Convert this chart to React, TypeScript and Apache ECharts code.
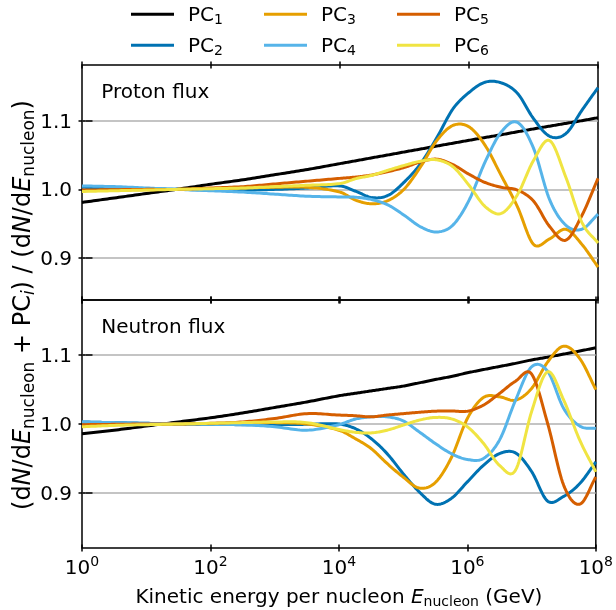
import React, { useEffect, useRef } from 'react';
import * as echarts from 'echarts';

const FONT = 'DejaVu Sans';

// log10 of kinetic energy per nucleon (GeV)
const logE = [0, 0.5, 1, 1.5, 2, 2.5, 3, 3.5, 4, 4.25, 4.5, 4.75, 5, 5.25, 5.5, 5.75, 6, 6.25, 6.5, 6.75, 7, 7.25, 7.5, 7.75, 8];

const seriesNames = ['PC1', 'PC2', 'PC3', 'PC4', 'PC5', 'PC6'];
const seriesColors = ['#000000', '#0072B2', '#E69F00', '#56B4E9', '#D55E00', '#F0E442'];

const protonPC1 = [0.981, 0.9875, 0.994, 1.0005, 1.0075, 1.014, 1.0215, 1.029, 1.0375, 1.0417, 1.046, 1.0502, 1.0545, 1.0587, 1.063, 1.0672, 1.0714, 1.0755, 1.0795, 1.0838, 1.088, 1.092, 1.096, 1.1, 1.1043];
const protonPC2 = [1.003, 1.002, 1.001, 1.0, 0.999, 0.999, 1.0, 1.002, 1.005, 0.997, 0.988, 0.9915, 1.011, 1.0375, 1.075, 1.117, 1.141, 1.156, 1.155, 1.14, 1.103, 1.0773, 1.081, 1.115, 1.148];
const protonPC3 = [0.998, 0.999, 0.9995, 1.0, 1.001, 1.002, 1.003, 1.003, 0.996, 0.984, 0.979, 0.984, 1.001, 1.033, 1.071, 1.093, 1.091, 1.064, 1.02, 0.975, 0.92, 0.928, 0.942, 0.92, 0.887];
const protonPC4 = [1.005, 1.004, 1.002, 1.0, 0.998, 0.996, 0.993, 0.99, 0.989, 0.9885, 0.985, 0.977, 0.962, 0.9455, 0.938, 0.948, 0.984, 1.04, 1.0835, 1.0975, 1.06, 0.985, 0.948, 0.942, 0.964];
const protonPC5 = [0.999, 0.9995, 1.0, 1.0, 1.002, 1.004, 1.008, 1.012, 1.016, 1.018, 1.021, 1.026, 1.032, 1.04, 1.044, 1.036, 1.022, 1.01, 1.003, 0.999, 0.983, 0.946, 0.926, 0.962, 1.016];
const protonPC6 = [0.997, 0.998, 0.999, 1.0, 1.001, 1.002, 1.004, 1.006, 1.0085, 1.0157, 1.0206, 1.028, 1.035, 1.041, 1.043, 1.033, 1.006, 0.975, 0.965, 0.992, 1.042, 1.071, 1.018, 0.952, 0.922];

const neutronPC1 = [0.986, 0.991, 0.997, 1.003, 1.009, 1.016, 1.024, 1.032, 1.041, 1.0445, 1.048, 1.0515, 1.055, 1.0597, 1.0645, 1.069, 1.0743, 1.079, 1.0835, 1.088, 1.093, 1.097, 1.1015, 1.106, 1.1106];
const neutronPC2 = [1.003, 1.002, 1.001, 1.0, 0.9995, 0.999, 0.999, 0.9995, 1.0, 0.9935, 0.979, 0.957, 0.928, 0.9015, 0.8836, 0.892, 0.916, 0.94, 0.957, 0.958, 0.931, 0.888, 0.895, 0.9135, 0.9449];
const neutronPC3 = [0.998, 0.999, 0.9995, 1.0, 1.0005, 1.001, 1.002, 1.0, 0.991, 0.979, 0.9645, 0.9427, 0.923, 0.907, 0.915, 0.951, 1.008, 1.0385, 1.0395, 1.0346, 1.0516, 1.09, 1.113, 1.095, 1.05];
const neutronPC4 = [1.003, 1.002, 1.001, 1.0, 0.9995, 0.999, 0.996, 0.991, 0.999, 1.007, 1.0104, 1.0104, 1.0046, 0.9886, 0.9717, 0.957, 0.9485, 0.95, 0.9766, 1.0346, 1.083, 1.0765, 1.0225, 0.997, 0.9935];
const neutronPC5 = [0.999, 0.9995, 1.0, 1.0, 1.001, 1.003, 1.008, 1.015, 1.013, 1.012, 1.0104, 1.013, 1.015, 1.017, 1.0186, 1.019, 1.0186, 1.0274, 1.0443, 1.0622, 1.0725, 1.0007, 0.911, 0.8836, 0.923];
const neutronPC6 = [0.996, 0.998, 0.999, 1.0, 1.001, 1.002, 1.003, 1.002, 0.992, 0.988, 0.987, 0.991, 0.9983, 1.0056, 1.0095, 1.0075, 0.996, 0.972, 0.94, 0.933, 1.018, 1.0758, 1.0346, 0.9765, 0.9305];

const protonSeries = [protonPC1, protonPC2, protonPC3, protonPC4, protonPC5, protonPC6];
const neutronSeries = [neutronPC1, neutronPC2, neutronPC3, neutronPC4, neutronPC5, neutronPC6];

const yTickValues = [0.9, 1.0, 1.1];
const protonYRange = [0.839, 1.181];
const neutronYRange = [0.82, 1.18];
const panelLabels = ['Proton flux', 'Neutron flux'];

const sub = (extra: any = {}) => ({
  fontSize: 14, fontFamily: FONT, color: '#000', height: 14, lineHeight: 24,
  padding: [10, 0, 0, 0], verticalAlign: 'middle', ...extra,
});
const mainTok = (extra: any = {}) => ({
  fontSize: 20, fontFamily: FONT, color: '#000', height: 20, lineHeight: 24,
  verticalAlign: 'middle', ...extra,
});
const richText = {
  m: mainTok(),
  it: mainTok({ fontStyle: 'italic' }),
  s: sub(),
  si: sub({ fontStyle: 'italic' }),
};
// larger text for the figure-level y label
const bigMain = (extra: any = {}) => ({
  fontSize: 24, fontFamily: FONT, color: '#000', height: 24, lineHeight: 29,
  verticalAlign: 'middle', ...extra,
});
const bigSub = (extra: any = {}) => ({
  fontSize: 17, fontFamily: FONT, color: '#000', height: 17, lineHeight: 29,
  padding: [12, 0, 0, 0], verticalAlign: 'middle', ...extra,
});
const richYLabel = {
  m: bigMain(),
  it: bigMain({ fontStyle: 'italic' }),
  s: bigSub(),
  si: bigSub({ fontStyle: 'italic' }),
};

// smooth (cubic Hermite) curve through the series points, mapped by the axes
const makeRenderItem = (color: string) => (params: any, api: any) => {
  if (params.dataIndexInside !== 0) return null;
  const n = params.dataInsideLength;
  const xs: number[] = [];
  const ys: number[] = [];
  for (let i = 0; i < n; i++) {
    xs.push(api.value(0, i));
    ys.push(api.value(1, i));
  }
  const m = xs.map((_, i) => {
    if (i === 0) return (ys[1] - ys[0]) / (xs[1] - xs[0]);
    if (i === n - 1) return (ys[n - 1] - ys[n - 2]) / (xs[n - 1] - xs[n - 2]);
    return (ys[i + 1] - ys[i - 1]) / (xs[i + 1] - xs[i - 1]);
  });
  const pts: number[][] = [];
  for (let i = 0; i < n - 1; i++) {
    const h = xs[i + 1] - xs[i];
    const steps = 14;
    for (let s = 0; s < steps; s++) {
      const t = s / steps;
      const t2 = t * t, t3 = t2 * t;
      const y = (2 * t3 - 3 * t2 + 1) * ys[i] + (t3 - 2 * t2 + t) * h * m[i]
        + (-2 * t3 + 3 * t2) * ys[i + 1] + (t3 - t2) * h * m[i + 1];
      pts.push(api.coord([xs[i] + t * h, y]));
    }
  }
  pts.push(api.coord([xs[n - 1], ys[n - 1]]));
  return {
    type: 'polyline',
    shape: { points: pts },
    style: { stroke: color, lineWidth: 3, fill: null, lineJoin: 'round', lineCap: 'butt' },
  };
};

export default function App() {
  const ref = useRef<HTMLDivElement>(null);
  useEffect(() => {
    const chart = echarts.init(ref.current!, null, { renderer: 'svg' });
    const tickLine = { color: '#000', width: 1.5 };

    const xAxisDef = (gridIndex: number, position: string, showLabel: boolean) => ({
      type: 'value', gridIndex, position, min: 0, max: 8, interval: 2, offset: -3.5,
      axisLine: { show: false }, splitLine: { show: false },
      axisTick: { show: true, inside: false, length: 7, lineStyle: tickLine },
      axisLabel: showLabel ? {
        show: true, margin: 9.5, showMinLabel: true, showMaxLabel: true,
        formatter: (v: number) => `{b|10}{e|${Math.round(v)}}`,
        rich: {
          b: { fontSize: 20, fontFamily: FONT, color: '#000', height: 20, lineHeight: 26, verticalAlign: 'middle' },
          e: { fontSize: 14, fontFamily: FONT, color: '#000', height: 14, lineHeight: 26, padding: [0, 0, 12, 0], verticalAlign: 'middle' },
        },
      } : { show: false },
      ...(showLabel ? {
        name: '{m|Kinetic energy per nucleon }{it|E}{s|nucleon}{m| (GeV)}',
        nameLocation: 'middle', nameGap: 39.5,
        nameTextStyle: { fontSize: 20, fontFamily: FONT, color: '#000', rich: richText },
      } : {}),
    });

    const yAxisDef = (gridIndex: number, position: string, range: number[], showLabel: boolean) => ({
      type: 'value', gridIndex, position, min: range[0], max: range[1], offset: -3.5,
      axisLine: { show: false },
      axisTick: { show: true, inside: false, length: 7, customValues: yTickValues, lineStyle: tickLine },
      axisLabel: showLabel ? {
        show: true, customValues: yTickValues, margin: 13.5,
        formatter: (v: number) => v.toFixed(1),
        fontSize: 20, fontFamily: FONT, color: '#000',
      } : { show: false },
      splitLine: showLabel ? { show: true, lineStyle: { color: '#b0b0b0', width: 1.6 } } : { show: false },
    });

    const series: any[] = [];
    [protonSeries, neutronSeries].forEach((panel, p) => {
      panel.forEach((vals, i) => {
        series.push({
          type: 'custom', name: seriesNames[i], coordinateSystem: 'cartesian2d',
          xAxisIndex: p * 2, yAxisIndex: p * 2,
          data: logE.map((x, k) => [x, vals[k]]),
          encode: { x: 0, y: 1 },
          renderItem: makeRenderItem(seriesColors[i]),
          itemStyle: { color: seriesColors[i] },
          silent: true,
        });
      });
    });

    const legendRich = {
      p: { fontSize: 20, fontFamily: FONT, color: '#000', height: 20, lineHeight: 24, padding: [0, 0, 0, 9], verticalAlign: 'middle' },
      s: sub(),
    };
    const legendDef = (names: string[], left: number) => ({
      data: names, left, top: 2.3, orient: 'vertical', padding: 0,
      itemWidth: 43, itemHeight: 3, itemGap: 7, icon: 'rect',
      formatter: (n: string) => `{p|PC}{s|${n.slice(2)}}`,
      textStyle: { fontSize: 20, fontFamily: FONT, color: '#000', rich: legendRich },
    });

    const option: any = {
      animation: false,
      color: seriesColors,
      textStyle: { fontFamily: FONT },
      grid: [
        { left: 82, top: 65, width: 516, height: 235, show: true, borderColor: '#000', borderWidth: 1.5, backgroundColor: 'transparent' },
        { left: 82, top: 300, width: 516, height: 248, show: true, borderColor: '#000', borderWidth: 1.5, backgroundColor: 'transparent' },
      ],
      xAxis: [
        xAxisDef(0, 'bottom', false),
        xAxisDef(0, 'top', false),
        xAxisDef(1, 'bottom', true),
        xAxisDef(1, 'top', false),
      ],
      yAxis: [
        yAxisDef(0, 'left', protonYRange, true),
        yAxisDef(0, 'right', protonYRange, false),
        yAxisDef(1, 'left', neutronYRange, true),
        yAxisDef(1, 'right', neutronYRange, false),
      ],
      legend: [
        legendDef(['PC1', 'PC2'], 131),
        legendDef(['PC3', 'PC4'], 264),
        legendDef(['PC5', 'PC6'], 397),
      ],
      graphic: [
        {
          type: 'text', x: 101.3, y: 90.5,
          style: { text: panelLabels[0], fontSize: 20, fontFamily: FONT, fill: '#000', align: 'left', verticalAlign: 'middle' },
        },
        {
          type: 'text', x: 101.3, y: 325.5,
          style: { text: panelLabels[1], fontSize: 20, fontFamily: FONT, fill: '#000', align: 'left', verticalAlign: 'middle' },
        },
        {
          type: 'text', x: 22, y: 305, rotation: Math.PI / 2,
          style: {
            text: '{m|(d}{it|N}{m|/d}{it|E}{s|nucleon}{m| + PC}{si|i}{m|) / (d}{it|N}{m|/d}{it|E}{s|nucleon}{m|)}',
            rich: richYLabel, align: 'center', verticalAlign: 'middle', fill: '#000',
            fontSize: 24, fontFamily: FONT,
          },
        },
      ],
      series,
    };
    chart.setOption(option);
    return () => chart.dispose();
  }, []);
  return <div ref={ref} style={{ position: 'fixed', left: 0, top: 0, width: 616, height: 610 }} />;
}
